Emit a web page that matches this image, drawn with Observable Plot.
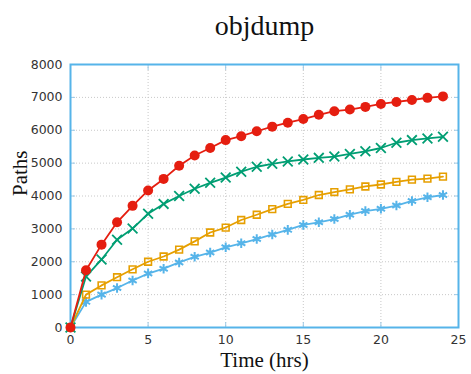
<!DOCTYPE html>
<html>
<head>
<meta charset="utf-8">
<script src="https://cdn.jsdelivr.net/npm/d3@7"></script>
<script src="https://cdn.jsdelivr.net/npm/@observablehq/plot@0.6"></script>
<style>
html,body{margin:0;padding:0;background:#fff;}
</style>
</head>
<body>
<div id="chart"></div>
<script>
const hours = d3.range(0, 25);
const seriesRed    = [0,1740,2520,3200,3700,4170,4520,4920,5230,5460,5700,5820,5970,6110,6230,6340,6470,6580,6630,6710,6800,6860,6920,6985,7030];
const seriesGreen  = [0,1550,2070,2670,3010,3460,3760,4000,4220,4400,4560,4740,4890,4980,5050,5110,5160,5200,5280,5360,5460,5620,5700,5750,5800];
const seriesOrange = [0,1000,1280,1530,1770,2000,2160,2370,2620,2890,3040,3270,3430,3600,3760,3880,4030,4120,4200,4290,4350,4430,4500,4530,4590];
const seriesBlue   = [0,780,1000,1200,1430,1640,1790,1980,2150,2280,2440,2560,2690,2830,2970,3120,3200,3300,3430,3540,3610,3710,3850,3960,4030];
const xTicks = [0,5,10,15,20,25];
const yTicks = [0,1000,2000,3000,4000,5000,6000,7000,8000];
const titleText = "objdump";
const xLabel = "Time (hrs)";
const yLabel = "Paths";

const toRows = (vals) => hours.map((h, i) => ({h, v: vals[i]}));
const red = toRows(seriesRed), green = toRows(seriesGreen), orange = toRows(seriesOrange), blue = toRows(seriesBlue);

const C = {red:"#e51e10", green:"#009e73", orange:"#e69f00", blue:"#56b4e9"};
const serif = "'Liberation Serif', 'Times New Roman', serif";
const fmt = d => String(d);
const blank = () => "";

const plot = Plot.plot({
  width: 471,
  height: 374,
  marginLeft: 70,
  marginRight: 13,
  marginTop: 64,
  marginBottom: 47,
  style: {fontFamily: "'DejaVu Sans', sans-serif", fontSize: "12px", color: "#333", background: "#fff"},
  x: {domain: [0, 25]},
  y: {domain: [0, 8000]},
  marks: [
    Plot.gridX(xTicks.slice(1, -1), {stroke: "#c8c8c8", strokeOpacity: 1, strokeDasharray: "1,2", strokeWidth: 1}),
    Plot.gridY(yTicks.slice(1, -1), {stroke: "#c8c8c8", strokeOpacity: 1, strokeDasharray: "1,2", strokeWidth: 1}),
    // inward mirror ticks
    Plot.axisX(xTicks, {anchor: "bottom", tickSize: 5, dy: -5, tickFormat: blank, stroke: "#9cc9e6", label: null}),
    Plot.axisX(xTicks, {anchor: "top", tickSize: 5, dy: 5, tickFormat: blank, stroke: "#9cc9e6", label: null}),
    Plot.axisY(yTicks, {anchor: "left", tickSize: 5, dx: 5, tickFormat: blank, stroke: "#9cc9e6", label: null}),
    Plot.axisY(yTicks, {anchor: "right", tickSize: 5, dx: -5, tickFormat: blank, stroke: "#9cc9e6", label: null}),
    // tick labels
    Plot.axisX(xTicks, {anchor: "bottom", tickSize: 0, tickPadding: 8, tickFormat: fmt, fontSize: 12.5, fill: "#333", label: null}),
    Plot.axisY(yTicks, {anchor: "left", tickSize: 0, tickPadding: 8, tickFormat: fmt, fontSize: 12.5, fill: "#333", label: null}),
    Plot.frame({stroke: "#56b4e9", strokeWidth: 2}),
    Plot.line(blue, {x: "h", y: "v", stroke: C.blue, strokeWidth: 1.8}),
    Plot.dot(blue, {x: "h", y: "v", symbol: "asterisk", stroke: C.blue, strokeWidth: 2, r: 4.5}),
    Plot.line(orange, {x: "h", y: "v", stroke: C.orange, strokeWidth: 1.8}),
    Plot.dot(orange, {x: "h", y: "v", symbol: "square", stroke: C.orange, strokeWidth: 1.6, fill: "none", r: 3.8}),
    Plot.line(green, {x: "h", y: "v", stroke: C.green, strokeWidth: 1.8}),
    Plot.dot(green, {x: "h", y: "v", symbol: "times", stroke: C.green, strokeWidth: 1.8, r: 4.5}),
    Plot.line(red, {x: "h", y: "v", stroke: C.red, strokeWidth: 1.8}),
    Plot.dot(red, {x: "h", y: "v", symbol: "circle", fill: C.red, stroke: "none", r: 5}),
    // titles
    Plot.text([titleText], {frameAnchor: "top", lineAnchor: "bottom", dy: -30, fontFamily: serif, fontSize: 28, fill: "#111"}),
    Plot.text([xLabel], {frameAnchor: "bottom", lineAnchor: "bottom", dy: 39, fontFamily: serif, fontSize: 21, fill: "#111"}),
    Plot.text([yLabel], {frameAnchor: "left", lineAnchor: "middle", rotate: -90, dx: -50, fontFamily: serif, fontSize: 21, fill: "#111"})
  ]
});
document.getElementById("chart").appendChild(plot);
</script>
</body>
</html>
